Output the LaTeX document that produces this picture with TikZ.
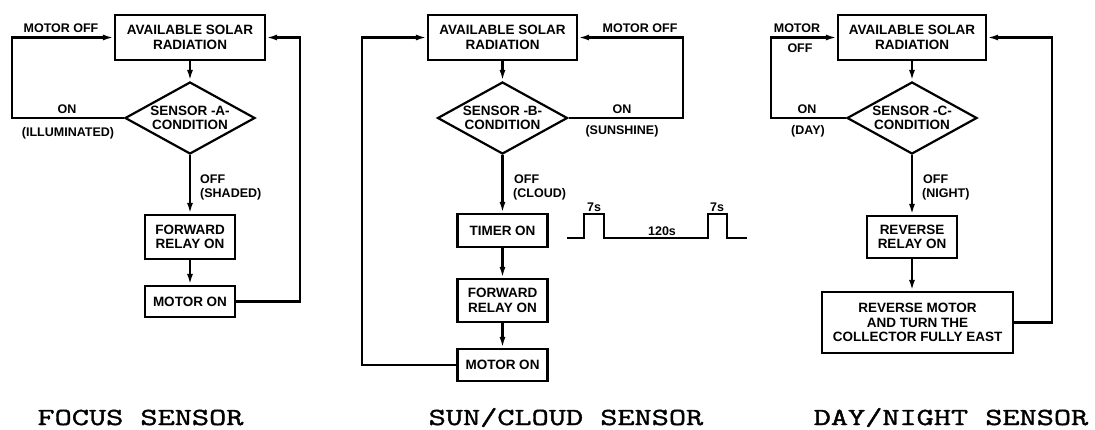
\documentclass[tikz,border=0pt]{standalone}
\usepackage{fontspec}
\newfontfamily\cadfont{Liberation Sans}
\newfontfamily\capfont{Latin Modern Mono}[FakeStretch=1.36, FakeBold=1.6]
\usetikzlibrary{shapes.geometric, arrows.meta, positioning}
\tikzset{
  blk/.style={draw, line width=2.2pt, inner sep=0pt, align=center,
    font=\cadfont\bfseries\fontsize{13.5}{14.5}\selectfont},
  cond/.style={blk, diamond, aspect=1.8, minimum width=130pt, minimum height=72pt},
  lbl/.style={inner sep=0pt, anchor=base, font=\cadfont\bfseries\fontsize{12.5}{14}\selectfont},
  flow/.style={line width=2.2pt, -{Latex[length=11pt,width=6pt]}},
  sensorname/.style={inner sep=0pt, anchor=base, font=\capfont\fontsize{24.5}{26}\selectfont}
}

\begin{document}
\begin{tikzpicture}[x=1pt, y=-1pt]
  \useasboundingbox (0,0) rectangle (1095,429);

  % focus sensor
  \node[blk, minimum width=150pt, minimum height=45pt] (srcA) at (190,37.5) {AVAILABLE SOLAR\\RADIATION};
  \node[cond] (decA) at (190,118) {SENSOR -A-\\CONDITION};
  \node[blk, minimum width=90pt, minimum height=44pt] (fwdA) at (190,237) {FORWARD\\RELAY ON};
  \node[blk, minimum width=90pt, minimum height=31pt] (motA) at (190,301.5) {MOTOR ON};
  \coordinate (lpA) at (12,80);
  \coordinate (rtA) at (300,200);
  \draw[flow] (srcA) -- (decA);
  \draw[flow] (decA) -- (fwdA);
  \draw[flow] (fwdA) -- (motA);
  \draw[flow] (decA.west) -| (lpA) |- (srcA.west);
  \draw[flow] (motA.east) -| (rtA) |- (srcA.east);
  \node[lbl] (offA) at (61,32.5) {MOTOR OFF};
  \node[lbl] (onA) at (67,113.5) {ON};
  \node[lbl] (litA) at (68,136) {(ILLUMINATED)};
  \node[lbl, anchor=base west] (nA) at (200,183) {OFF};
  \node[lbl, anchor=base west] (shA) at (200,197) {(SHADED)};

  % sun/cloud sensor
  \node[blk, minimum width=149pt, minimum height=45pt] (srcB) at (502.5,37.5) {AVAILABLE SOLAR\\RADIATION};
  \node[cond] (decB) at (502.5,118) {SENSOR -B-\\CONDITION};
  \node[blk, minimum width=90pt, minimum height=33pt] (timB) at (502.5,230.5) {TIMER ON};
  \node[blk, minimum width=90pt, minimum height=43pt] (fwdB) at (502.5,300.5) {FORWARD\\RELAY ON};
  \node[blk, minimum width=90pt, minimum height=32pt] (motB) at (502.5,365) {MOTOR ON};
  \coordinate (rtB) at (683,80);
  \coordinate (lpB) at (362,200);
  \draw[flow] (srcB) -- (decB);
  \draw[flow] (decB) -- (timB);
  \draw[flow] (timB) -- (fwdB);
  \draw[flow] (fwdB) -- (motB);
  \draw[flow] (decB.east) -| (rtB) |- (srcB.east);
  \draw[flow] (motB.west) -| (lpB) |- (srcB.west);
  \node[lbl] (offB) at (640,32.5) {MOTOR OFF};
  \node[lbl] (onB) at (622,113.5) {ON};
  \node[lbl] (sunB) at (622,134) {(SUNSHINE)};
  \node[lbl, anchor=base west] (nB) at (514,183) {OFF};
  \node[lbl, anchor=base west] (clB) at (513,197) {(CLOUD)};

  % timer pulses
  \draw[line width=1.6pt] (567,238) -- (584,238) -- (584,214) -- (604,214) -- (604,238)
    -- (708,238) -- (708,214) -- (727,214) -- (727,238) -- (747,238);
  \node[lbl] (pA) at (594,211) {7s};
  \node[lbl] (pB) at (717,211) {7s};
  \node[lbl] (gap) at (662,235) {120s};

  % day/night sensor
  \node[blk, minimum width=148pt, minimum height=45pt] (srcC) at (912,37.5) {AVAILABLE SOLAR\\RADIATION};
  \node[cond] (decC) at (912,118) {SENSOR -C-\\CONDITION};
  \node[blk, minimum width=90pt, minimum height=42pt] (revR) at (912,237) {REVERSE\\RELAY ON};
  \node[blk, minimum width=191pt, minimum height=61pt] (revM) at (917.5,322.5)
    {REVERSE MOTOR\\AND TURN THE\\COLLECTOR FULLY EAST};
  \coordinate (lpC) at (771,80);
  \coordinate (rtC) at (1052,200);
  \draw[flow] (srcC) -- (decC);
  \draw[flow] (decC) -- (revR);
  \draw[flow] (revR) -- (revR.south |- revM.north);
  \draw[flow] (decC.west) -| (lpC) |- (srcC.west);
  \draw[flow] (revM.east) -| (rtC) |- (srcC.east);
  \node[lbl] (moC) at (797,32) {MOTOR};
  \node[lbl] (ofC) at (800,52) {OFF};
  \node[lbl] (onC) at (807,113) {ON};
  \node[lbl] (dayC) at (808,134) {(DAY)};
  \node[lbl, anchor=base west] (nC) at (923,183) {OFF};
  \node[lbl, anchor=base west] (ntC) at (922,197) {(NIGHT)};

  % captions
  \node[sensorname] (capA) at (140.5,425) {FOCUS SENSOR};
  \node[sensorname] (capB) at (566,425) {SUN/CLOUD SENSOR};
  \node[sensorname] (capC) at (951,425) {DAY/NIGHT SENSOR};
\end{tikzpicture}
\end{document}
